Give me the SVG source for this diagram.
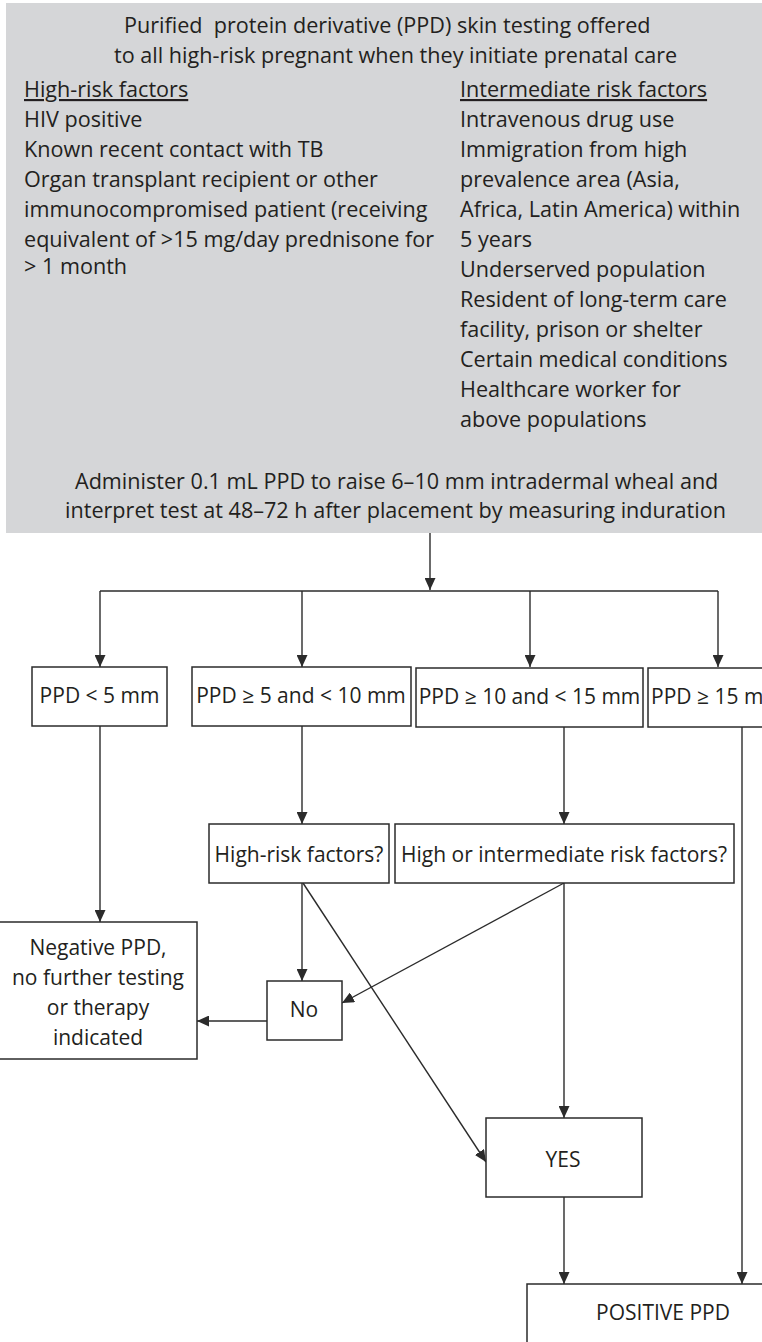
<svg xmlns="http://www.w3.org/2000/svg" width="762" height="1342" viewBox="0 0 762 1342">
  <style>
    text { font-family: "Open Sans", "Liberation Sans", sans-serif; font-size: 21px; fill: #231f20; }
    #screening text { font-size: 21.6px; }
    .c { text-anchor: middle; }
    .u { text-decoration: underline; }
    .box { fill: #ffffff; stroke: #2b2b2b; stroke-width: 1.5; }
    .link { fill: none; stroke: #2b2b2b; stroke-width: 1.4; }
  </style>
  <defs>
    <marker id="arrow" markerUnits="userSpaceOnUse" markerWidth="12" markerHeight="11" refX="12" refY="5.5" orient="auto">
      <path d="M0,0 L12,5.5 L0,11 z" fill="#2b2b2b"/>
    </marker>
  </defs>
  <rect width="762" height="1342" fill="#ffffff"/>

  <!-- screening panel -->
  <g id="screening">
    <rect x="6" y="3" width="800" height="530" fill="#d5d6d8"/>
    <text x="124" y="33" xml:space="preserve">Purified  protein derivative (PPD) skin testing offered</text>
    <text x="114" y="63">to all high-risk pregnant when they initiate prenatal care</text>
    <text x="24" y="97" class="u">High-risk factors</text>
    <text x="24" y="127">HIV positive</text>
    <text x="24" y="157">Known recent contact with TB</text>
    <text x="24" y="187">Organ transplant recipient or other</text>
    <text x="24" y="217">immunocompromised patient (receiving</text>
    <text x="24" y="247">equivalent of &gt;15 mg/day prednisone for</text>
    <text x="24" y="274">&gt; 1 month</text>
    <text x="460" y="97" class="u">Intermediate risk factors</text>
    <text x="460" y="127">Intravenous drug use</text>
    <text x="460" y="157">Immigration from high</text>
    <text x="460" y="187">prevalence area (Asia,</text>
    <text x="460" y="217">Africa, Latin America) within</text>
    <text x="460" y="247">5 years</text>
    <text x="460" y="277">Underserved population</text>
    <text x="460" y="307">Resident of long-term care</text>
    <text x="460" y="337">facility, prison or shelter</text>
    <text x="460" y="367">Certain medical conditions</text>
    <text x="460" y="397">Healthcare worker for</text>
    <text x="460" y="427">above populations</text>
    <text x="75" y="489">Administer 0.1 mL PPD to raise 6–10 mm intradermal wheal and</text>
    <text x="65" y="518">interpret test at 48–72 h after placement by measuring induration</text>
  </g>

  <!-- connectors -->
  <g id="connectors" class="link">
    <path class="link" d="M430,533 V590" marker-end="url(#arrow)"/>
    <path class="link" d="M100,591 H718"/>
    <path class="link" d="M100,591 V667" marker-end="url(#arrow)"/>
    <path class="link" d="M302,591 V667" marker-end="url(#arrow)"/>
    <path class="link" d="M530,591 V667" marker-end="url(#arrow)"/>
    <path class="link" d="M718,591 V667" marker-end="url(#arrow)"/>
    <path class="link" d="M100,726 V922" marker-end="url(#arrow)"/>
    <path class="link" d="M302,726 V824" marker-end="url(#arrow)"/>
    <path class="link" d="M564,727 V824" marker-end="url(#arrow)"/>
    <path class="link" d="M742,727 V1284" marker-end="url(#arrow)"/>
    <path class="link" d="M302,883 V981" marker-end="url(#arrow)"/>
    <path class="link" d="M303,883 L486,1162" marker-end="url(#arrow)"/>
    <path class="link" d="M564,883 L342,1003" marker-end="url(#arrow)"/>
    <path class="link" d="M564,883 V1118" marker-end="url(#arrow)"/>
    <path class="link" d="M267,1021 H197" marker-end="url(#arrow)"/>
    <path class="link" d="M564,1197 V1284" marker-end="url(#arrow)"/>
  </g>

  <g id="ppd-lt5">
    <rect class="box" x="32" y="667" width="135" height="59"/>
    <text class="c" x="99.5" y="703">PPD &lt; 5 mm</text>
  </g>
  <g id="ppd-5to10">
    <rect class="box" x="192" y="667" width="219" height="59"/>
    <text class="c" x="301" y="703">PPD ≥ 5 and &lt; 10 mm</text>
  </g>
  <g id="ppd-10to15">
    <rect class="box" x="416" y="668" width="227" height="59"/>
    <text class="c" x="529.5" y="704">PPD ≥ 10 and &lt; 15 mm</text>
  </g>
  <g id="ppd-ge15">
    <rect class="box" x="648" y="668" width="160" height="59"/>
    <text x="651" y="704">PPD ≥ 15 mm</text>
  </g>
  <g id="high-risk-q">
    <rect class="box" x="209" y="824" width="180" height="59"/>
    <text class="c" x="299" y="862">High-risk factors?</text>
  </g>
  <g id="high-int-q">
    <rect class="box" x="395" y="824" width="339" height="59"/>
    <text class="c" x="564" y="862">High or intermediate risk factors?</text>
  </g>
  <g id="negative">
    <rect class="box" x="-2" y="922" width="199" height="137"/>
    <text class="c" x="98" y="955">Negative PPD,</text>
    <text class="c" x="98" y="985">no further testing</text>
    <text class="c" x="98" y="1015">or therapy</text>
    <text class="c" x="98" y="1045">indicated</text>
  </g>
  <g id="no">
    <rect class="box" x="267" y="981" width="75" height="59"/>
    <text class="c" x="304" y="1017">No</text>
  </g>
  <g id="yes">
    <rect class="box" x="486" y="1118" width="156" height="79"/>
    <text class="c" x="563" y="1167">YES</text>
  </g>
  <g id="positive">
    <rect class="box" x="527" y="1284" width="280" height="80"/>
    <text class="c" x="663" y="1320">POSITIVE PPD</text>
  </g>
</svg>
